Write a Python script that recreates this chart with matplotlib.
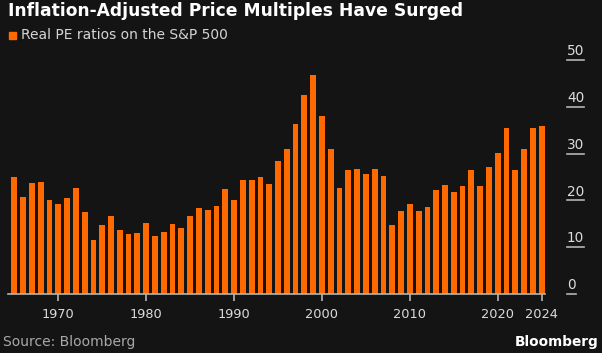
import numpy as np
import matplotlib.pyplot as plt
import matplotlib.transforms as mtransforms
from matplotlib.patches import Rectangle

# annual real PE, S&P 500
years = list(range(1964, 2025))
real_pe = [25.1, 20.8, 23.7, 23.9, 20.1, 19.2, 20.5, 22.6, 17.6, 11.6,
           14.8, 16.6, 13.6, 12.8, 13.1, 15.1, 12.4, 13.3, 14.9, 14.1,
           16.7, 18.3, 18.0, 18.8, 22.4, 20.0, 24.3, 24.3, 25.1, 23.4,
           28.5, 31.0, 36.3, 42.5, 46.8, 38.0, 31.0, 22.6, 26.6, 26.7,
           25.6, 26.7, 25.3, 14.7, 17.8, 19.3, 17.8, 18.6, 22.3, 23.3,
           21.8, 23.1, 26.6, 23.1, 27.1, 30.1, 35.5, 26.6, 30.9, 35.4, 36.0]

tick_pos = [1970, 1980, 1990, 2000, 2010, 2020, 2025]
tick_labels = ['1970', '1980', '1990', '2000', '2010', '2020', '2024']
y_ticks = [0, 10, 20, 30, 40, 50]

bg = '#141414'
orange = '#ff6a00'
axis_col = '#b4b4b4'
W, H = 602, 353

fig = plt.figure(figsize=(W / 100, H / 100), dpi=100, facecolor=bg)
ax = fig.add_axes([8 / W, 59 / H, 537 / W, 234 / H], facecolor=bg)

# bars are dated at year end, like Bloomberg does
x = np.array(years) + 1
ax.bar(x, real_pe, width=0.66, color=orange, zorder=2)

ax.set_xlim(1964.28, 2025.38)
ax.set_ylim(0, 50)

for s in ['top', 'left', 'right']:
    ax.spines[s].set_visible(False)
ax.spines['bottom'].set_color(axis_col)
ax.spines['bottom'].set_linewidth(1.2)
ax.spines['bottom'].set_zorder(3)

ax.set_xticks(tick_pos)
ax.set_xticklabels(tick_labels)
ax.tick_params(axis='x', direction='out', length=5, width=1.2, color=axis_col,
               labelcolor='#dcdcdc', labelsize=9.3, pad=5)
ax.set_yticks([])

# right-hand y labels with little underlines
blend = mtransforms.blended_transform_factory(ax.transAxes, ax.transData)
x0 = (567 - 8) / 537
for v in y_ticks:
    lab = str(v)
    ax.text(x0, v + 0.4, lab, transform=blend, color='#dcdcdc', fontsize=9.8,
            ha='left', va='bottom')
    ax.plot([x0, x0 + 8.5 * len(lab) / 537], [v, v], transform=blend,
            color=axis_col, lw=1.2, clip_on=False)

fig.text(8 / W, 1 - 11 / H, 'Inflation-Adjusted Price Multiples Have Surged',
         color='white', fontsize=12.3, fontweight='bold', va='center')
fig.patches.append(Rectangle((9 / W, 1 - 39 / H), 7 / W, 7 / H,
                             transform=fig.transFigure, color=orange))
fig.text(21 / W, 1 - 35 / H, 'Real PE ratios on the S&P 500',
         color='#d4d4d4', fontsize=10, va='center')

fig.text(3 / W, 1 - 342 / H, 'Source: Bloomberg', color='#a8a8a8',
         fontsize=10, va='center')
fig.text(599 / W, 1 - 342 / H, 'Bloomberg', color='white', fontsize=9.8,
         fontweight='bold', va='center', ha='right')

fig.savefig('out.png', dpi=100, facecolor=bg)
